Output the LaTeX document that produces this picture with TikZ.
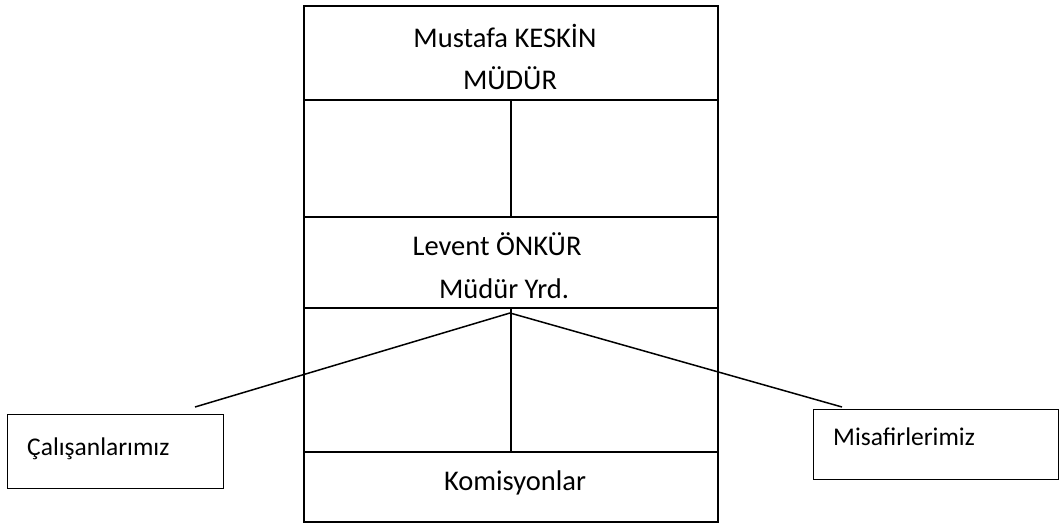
\documentclass[tikz,border=0pt]{standalone}
\usepackage{fontspec}
\setmainfont{Carlito}
\begin{document}
\begin{tikzpicture}[x=1pt,y=-1pt,
  cell/.style={draw, line width=2pt, inner sep=0pt, anchor=north west},
  sidebox/.style={draw, line width=1.4pt, inner sep=0pt, anchor=north west},
  label/.style={anchor=base, inner sep=0pt, font=\fontsize{28.5}{34}\selectfont},
  leftlabel/.style={anchor=base west, inner sep=0pt, font=\fontsize{25.5}{30}\selectfont},
  link/.style={line width=1.5pt}]
\useasboundingbox (0,0) rectangle (1061,525);

% main column of cells
\node[cell, minimum width=414pt, minimum height=94pt]  (mudur) at (303,5) {};
\node[cell, minimum width=207pt, minimum height=117pt] (r2l)   at (303,99) {};
\node[cell, minimum width=207pt, minimum height=117pt] (r2r)   at (510,99) {};
\node[cell, minimum width=414pt, minimum height=91pt]  (yrd)   at (303,216) {};
\node[cell, minimum width=207pt, minimum height=144pt] (r4l)   at (303,307) {};
\node[cell, minimum width=207pt, minimum height=144pt] (r4r)   at (510,307) {};
\node[cell, minimum width=414pt, minimum height=70pt]  (kom)   at (303,451) {};

% texts of the column
\node[label] (t1) at (505,47)  {Mustafa KESKİN};
\node[label] (t2) at (510,89)  {MÜDÜR};
\node[label] (t3) at (497,255) {Levent ÖNKÜR};
\node[label] (t4) at (504,298) {Müdür Yrd.};
\node[label] (t5) at (515,490) {Komisyonlar};

% side boxes
\node[sidebox, minimum width=216pt, minimum height=74pt] (calisan) at (7,414) {};
\node[sidebox, minimum width=245pt, minimum height=70pt] (misafir) at (813,409) {};
\node[leftlabel] (t6) at (27,455)  {Çalışanlarımız};
\node[leftlabel] (t7) at (833,445) {Misafirlerimiz};

% connecting lines
\coordinate (apex) at (510,313);
\coordinate (cend) at (195,407);
\coordinate (mend) at (842,407);
\draw[link] (apex) -- (cend);
\draw[link] (apex) -- (mend);
\end{tikzpicture}
\end{document}
